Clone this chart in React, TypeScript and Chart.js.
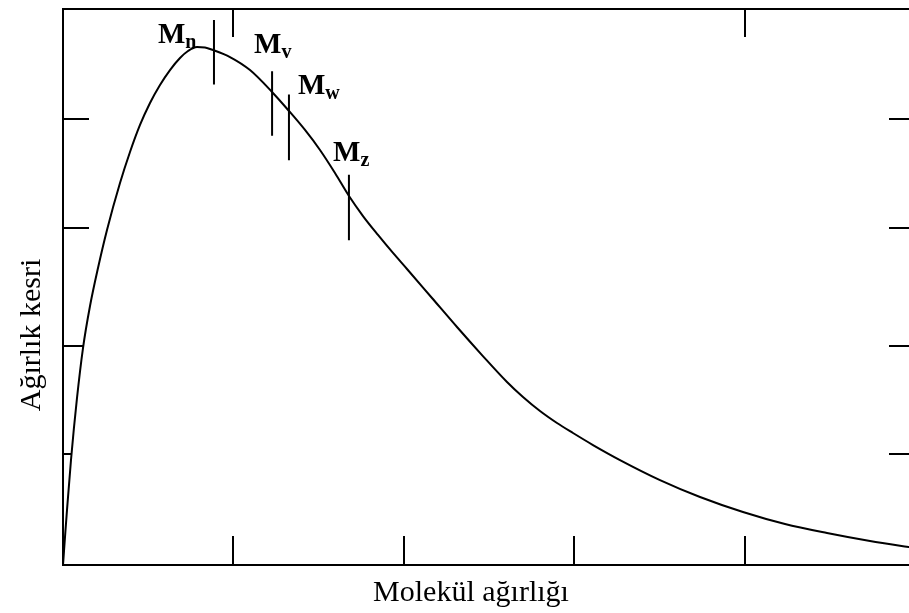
import React, { useEffect, useRef } from "react";
import { Chart, registerables } from "chart.js";

Chart.register(...registerables);

// Weight-fraction distribution curve (x: molecular weight, y: weight fraction)
const curveX = [0, 0.0059, 0.0147, 0.0235, 0.0469, 0.0822, 0.1174, 0.1585, 0.2054, 0.2582, 0.3345, 0.3932, 0.4519, 0.5106, 0.5692, 0.6279, 0.6866, 0.7336, 0.7864, 0.8333, 0.8803, 0.98, 1.0974, 1.2265, 1.3263, 1.4202, 1.5082, 1.5962, 1.6784, 1.7606, 1.8486, 1.9366, 2.0188, 2.1655, 2.3122, 2.4589, 2.6056, 2.6995, 2.7993, 2.8991, 2.993, 3.1103, 3.2688, 3.5035, 3.7383, 3.9906, 4.2371, 4.4836, 4.7359, 5.0];
const curveY = [0, 0.126, 0.315, 0.495, 0.944, 1.502, 1.951, 2.329, 2.671, 3.013, 3.435, 3.714, 3.957, 4.155, 4.317, 4.451, 4.559, 4.622, 4.658, 4.654, 4.631, 4.568, 4.451, 4.254, 4.083, 3.912, 3.732, 3.525, 3.318, 3.138, 2.968, 2.806, 2.662, 2.401, 2.14, 1.888, 1.646, 1.511, 1.385, 1.277, 1.187, 1.079, 0.944, 0.764, 0.612, 0.477, 0.369, 0.288, 0.216, 0.153];

// Average molecular weight markers
const markerNames = ["n", "v", "w", "z"];
const markerX = [0.886, 1.227, 1.326, 1.678];
const markerTop = [4.9, 4.44, 4.23, 3.51];
const markerBottom = [4.32, 3.86, 3.64, 2.92];
const labelX = [0.557, 1.121, 1.379, 1.585];
const labelY = [4.69, 4.6, 4.24, 3.63];

// Axis ticks (no labels)
const xTicksBottom = [1, 2, 3, 4];
const xTicksTop = [1, 4];
const yTicks = [1, 1.97, 3.03, 4.01];

const xTitle = "Molekül ağırlığı";
const yTitle = "Ağırlık kesri";

const FONT = '"Liberation Serif", "Times New Roman", serif';

export default function App() {
  const ref = useRef<HTMLCanvasElement | null>(null);

  useEffect(() => {
    const canvas = ref.current;
    if (!canvas) return;

    const line = (ctx: CanvasRenderingContext2D, x1: number, y1: number, x2: number, y2: number) => {
      ctx.beginPath();
      ctx.moveTo(x1, y1);
      ctx.lineTo(x2, y2);
      ctx.stroke();
    };

    const framePlugin = {
      id: "frameTicks",
      beforeDatasetsDraw(chart: any) {
        const { ctx, chartArea: a, scales } = chart;
        const y = scales.y;
        ctx.save();
        ctx.strokeStyle = "#000";
        ctx.lineWidth = 2;
        for (const v of yTicks) {
          const py = Math.round(y.getPixelForValue(v));
          line(ctx, a.left, py, a.left + 26, py);
        }
        ctx.restore();
      },
      afterDatasetsDraw(chart: any) {
        const { ctx, chartArea: a, scales } = chart;
        const x = scales.x;
        const y = scales.y;
        ctx.save();
        ctx.strokeStyle = "#000";
        ctx.lineWidth = 2;
        // frame
        line(ctx, a.left, a.top, a.right, a.top);
        line(ctx, a.left, a.bottom, a.right, a.bottom);
        line(ctx, a.left, a.top - 1, a.left, a.bottom + 1);
        line(ctx, a.right, a.top - 1, a.right, a.bottom + 1);
        // ticks
        for (const v of xTicksBottom) {
          const px = Math.round(x.getPixelForValue(v));
          line(ctx, px, a.bottom, px, a.bottom - 29);
        }
        for (const v of xTicksTop) {
          const px = Math.round(x.getPixelForValue(v));
          line(ctx, px, a.top, px, a.top + 28);
        }
        for (const v of yTicks) {
          const py = Math.round(y.getPixelForValue(v));
          line(ctx, a.right, py, a.right - 26, py);
        }
        // marker labels
        ctx.fillStyle = "#000";
        ctx.textBaseline = "alphabetic";
        ctx.textAlign = "left";
        markerNames.forEach((n, i) => {
          const px = x.getPixelForValue(labelX[i]);
          const py = y.getPixelForValue(labelY[i]);
          ctx.font = `bold 29px ${FONT}`;
          ctx.fillText("M", px, py);
          const w = ctx.measureText("M").width;
          ctx.font = `bold 20px ${FONT}`;
          ctx.fillText(n, px + w, py + 5);
        });
        // axis titles
        ctx.font = `30px ${FONT}`;
        ctx.textAlign = "center";
        ctx.fillText(xTitle, 471, 601);
        ctx.save();
        ctx.translate(40, 335);
        ctx.rotate(-Math.PI / 2);
        ctx.fillText(yTitle, 0, 0);
        ctx.restore();
        ctx.restore();
      },
    };

    const datasets: any[] = [
      {
        label: "curve",
        data: curveX.map((v, i) => ({ x: v, y: curveY[i] })),
        borderColor: "#000",
        borderWidth: 2,
        backgroundColor: "#fff",
        fill: "origin",
        pointRadius: 0,
        cubicInterpolationMode: "monotone",
        order: 10,
      },
      ...markerNames.map((n, i) => ({
        label: "M" + n,
        data: [
          { x: markerX[i], y: markerTop[i] },
          { x: markerX[i], y: markerBottom[i] },
        ],
        borderColor: "#000",
        borderWidth: 2,
        pointRadius: 0,
        fill: false,
        order: 0,
      })),
    ];

    const chart = new Chart(canvas, {
      type: "line",
      data: { datasets },
      options: {
        responsive: false,
        maintainAspectRatio: false,
        animation: false,
        devicePixelRatio: 1,
        layout: { padding: { left: 63, top: 9, right: 2, bottom: 48 } },
        plugins: { legend: { display: false }, tooltip: { enabled: false } },
        scales: {
          x: { type: "linear", min: 0, max: 5, display: false },
          y: { type: "linear", min: 0, max: 5, display: false },
        },
      },
      plugins: [framePlugin],
    });

    return () => chart.destroy();
  }, []);

  return (
    <div
      style={{
        position: "fixed",
        left: 0,
        top: 0,
        width: 909,
        height: 613,
        overflow: "hidden",
        background: "#fff",
      }}
    >
      <canvas ref={ref} width={917} height={613} style={{ display: "block" }} />
    </div>
  );
}
